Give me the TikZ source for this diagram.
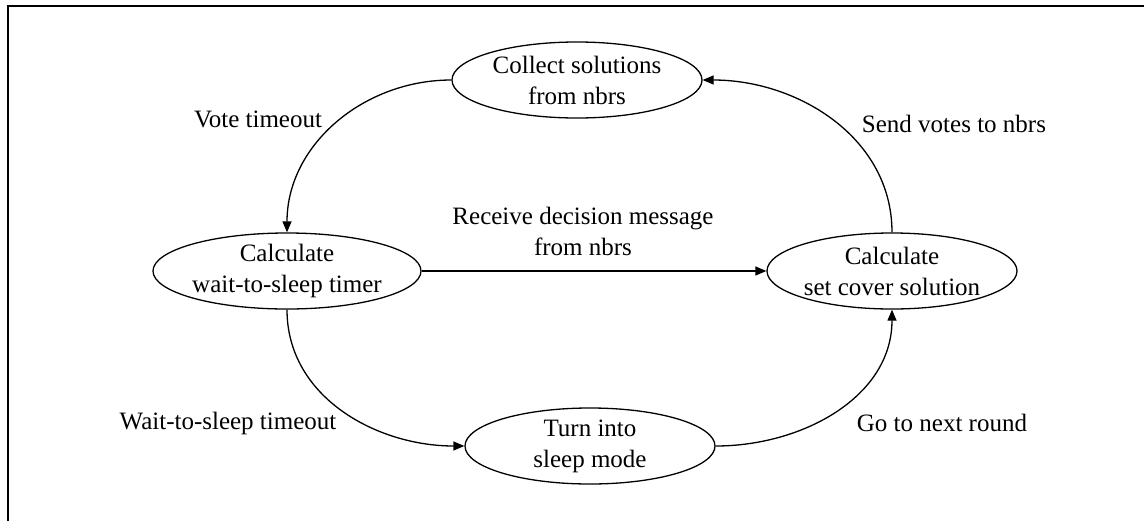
\documentclass[tikz,border=0pt]{standalone}
\usepackage{fontspec}
\setmainfont{Liberation Serif}
\usetikzlibrary{shapes.geometric,arrows.meta}
\begin{document}
\begin{tikzpicture}[x=1pt,y=-1pt,
  state/.style={ellipse,draw,line width=1.3pt,minimum width=250pt,minimum height=76pt,
    inner sep=0pt,align=center,font=\fontsize{25}{31}\selectfont},
  lbl/.style={align=center,font=\fontsize{25}{31}\selectfont,inner sep=0pt},
  flow/.style={line width=1.3pt,-{Triangle[length=11pt,width=9pt]}}]
  \clip (0,0) rectangle (1144,520);
  % outer frame
  \draw[line width=2.6pt] (8,6) rectangle (1160,540);

  % states
  \node[state] (collect) at (577,80) {Collect solutions\\from nbrs};
  \node[state] (timer)   at (287,271) {Calculate\\wait-to-sleep timer};
  \node[state] (cover)   at (892,271) {Calculate\\set cover solution};
  \node[state] (sleep)   at (590,446) {Turn into\\sleep mode};

  % transitions
  \draw[flow] (collect.west) to[out=180,in=90] (timer.north);
  \draw[flow] (cover.north) to[out=90,in=0] (collect.east);
  \draw[flow] (timer.east) -- (cover.west);
  \draw[flow] (timer.south) to[out=-90,in=180] (sleep.west);
  \draw[flow] (sleep.east) to[out=0,in=-90] (cover.south);

  % transition labels
  \node[lbl] (lvote)    at (258,119) {Vote timeout};
  \node[lbl] (lsend)    at (954,124) {Send votes to nbrs};
  \node[lbl] (lreceive) at (583,231) {Receive decision message\\from nbrs};
  \node[lbl] (lwait)    at (228,423) {Wait-to-sleep timeout};
  \node[lbl] (lnext)    at (942,423) {Go to next round};
\end{tikzpicture}
\end{document}
